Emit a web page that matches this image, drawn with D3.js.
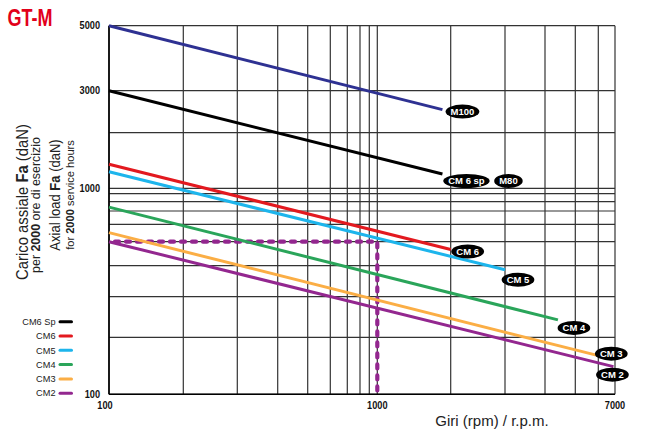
<!DOCTYPE html>
<html>
<head>
<meta charset="utf-8">
<script src="https://cdn.jsdelivr.net/npm/d3@7"></script>
<style>
  body { margin: 0; background: #fff; }
  svg { display: block; font-family: "Liberation Sans", Arial, Helvetica, sans-serif; }
</style>
</head>
<body>
<div id="chart"></div>
<script>
// chart values
var seriesNames = ["M100", "CM6 Sp", "CM6", "CM5", "CM4", "CM3", "CM2"];
var seriesRpm = [
    [100, 1850],
    [100, 1850],
    [100, 2000],
    [100, 3000],
    [100, 4400],
    [100, 6000],
    [100, 6900]
];
var seriesLoad = [
    [5000, 2500],
    [3000, 1195],
    [1350, 465],
    [1230, 385],
    [740, 238],
    [550, 160],
    [500, 140]
];
var seriesColors = ["#2e3192", "#000000", "#e3191f", "#1db5ec", "#2aa55a", "#fbae45", "#93278f"];

// badge texts at the end of the lines
var badgeText = ["M100", "CM 6 sp", "CM 6", "CM 5", "CM 4", "CM 3", "CM 2"];

// example reading : 1000 rpm -> 500 daN
var exampleRpm = [100, 1000, 1000];
var exampleLoad = [500, 500, 100];

// grid / tick values (log paper)
var xGrid = [100, 200, 300, 400, 500, 600, 700, 800, 900, 1000, 2000, 3000, 4000, 5000, 6000, 7000];
var yGrid = [100, 200, 300, 400, 500, 600, 700, 800, 900, 1000, 2000, 3000, 5000];
var xTickLabels = [100, 1000, 7000];
var yTickLabels = [100, 1000, 3000, 5000];

var legendNames = ["CM6 Sp", "CM6", "CM5", "CM4", "CM3", "CM2"];

var svgWidth = 645;
var svgHeight = 436;

var svg = d3.select("#chart").append("svg")
    .attr("width", svgWidth)
    .attr("height", svgHeight);

// the printed paper is not a pure log scale, so the scale is piecewise on the grid lines
var xScale = d3.scaleLog()
    .domain(xGrid)
    .range([109, 183.3, 237.3, 277.7, 307.7, 330.3, 347.3, 360, 369.3, 377.3, 450.7, 505, 545, 575.3, 598.3, 615]);

var yScale = d3.scaleLog()
    .domain(yGrid)
    .range([394.3, 337.3, 296.7, 265.7, 241.7, 224.3, 211, 201.7, 193.7, 188.3, 132.7, 90.7, 25.7]);

var x0 = xScale(100), x1 = xScale(7000);
var y0 = yScale(100), y1 = yScale(5000);

// grid
var grid = svg.append("g");
grid.selectAll("line.v")
    .data(xGrid)
    .enter()
    .append("line")
    .attr("class", "v")
    .attr("x1", d => xScale(d))
    .attr("x2", d => xScale(d))
    .attr("y1", y1)
    .attr("y2", y0)
    .attr("stroke", "#333")
    .attr("stroke-width", 1.2);

grid.selectAll("line.h")
    .data(yGrid)
    .enter()
    .append("line")
    .attr("class", "h")
    .attr("x1", x0)
    .attr("x2", x1)
    .attr("y1", d => yScale(d))
    .attr("y2", d => yScale(d))
    .attr("stroke", "#333")
    .attr("stroke-width", 1.2);

// frame
svg.append("line").attr("x1", x0).attr("x2", x0).attr("y1", y1).attr("y2", y0)
    .attr("stroke", "#000").attr("stroke-width", 1.6);
svg.append("line").attr("x1", x0).attr("x2", x1).attr("y1", y0).attr("y2", y0)
    .attr("stroke", "#000").attr("stroke-width", 1.6);

// tick labels
svg.selectAll("text.xt")
    .data(xTickLabels)
    .enter()
    .append("text")
    .attr("class", "xt")
    .attr("transform", (d, i) => `translate(${xScale(d) + (i === 0 ? -4 : 0)},408.5) scale(0.9,1)`)
    .attr("text-anchor", "middle")
    .attr("font-size", "10.2px")
    .attr("font-weight", "bold")
    .attr("fill", "#111")
    .text(d => d);

svg.selectAll("text.yt")
    .data(yTickLabels)
    .enter()
    .append("text")
    .attr("class", "yt")
    .attr("transform", d => `translate(100,${yScale(d) + 3.6}) scale(0.9,1)`)
    .attr("text-anchor", "end")
    .attr("font-size", "10.2px")
    .attr("font-weight", "bold")
    .attr("fill", "#111")
    .text(d => d);

// example reading (dashed)
var lineGen = d3.line()
    .x(d => xScale(d[0]))
    .y(d => yScale(d[1]));

svg.append("path")
    .datum(exampleRpm.map((r, i) => [r, exampleLoad[i]]))
    .attr("d", lineGen)
    .attr("fill", "none")
    .attr("stroke", "#93278f")
    .attr("stroke-width", 4.2)
    .attr("stroke-linecap", "round")
    .attr("stroke-dasharray", "4,7")
    .attr("stroke-dashoffset", -6);

// series lines
var seriesData = seriesNames.map(function(name, i) {
    return {
        name: name,
        color: seriesColors[i],
        badge: badgeText[i],
        points: seriesRpm[i].map((r, j) => [r, seriesLoad[i][j]])
    };
});

svg.append("g").selectAll("path")
    .data(seriesData)
    .enter()
    .append("path")
    .attr("d", d => lineGen(d.points))
    .attr("fill", "none")
    .attr("stroke", d => d.color)
    .attr("stroke-width", 3);

// badges : nudge from the line end
var badgeNudge = [[20, 2], [24, 7], [17, 2], [13, 10], [16, 8], [13, -2], [-1, 8]];

function badge(cx, cy, label) {
    var g = svg.append("g").attr("transform", `translate(${cx},${cy})`);
    var el = g.append("ellipse").attr("fill", "#000");
    var t = g.append("text")
        .attr("text-anchor", "middle")
        .attr("y", 3.4)
        .attr("font-size", "9.5px")
        .attr("font-weight", "bold")
        .attr("fill", "#fff")
        .text(label);
    var w = t.node().getComputedTextLength();
    el.attr("rx", w / 2 + 5).attr("ry", 7);
    return w;
}

seriesData.forEach(function(d, i) {
    var end = d.points[d.points.length - 1];
    var cx = xScale(end[0]) + badgeNudge[i][0];
    var cy = yScale(end[1]) + badgeNudge[i][1];
    badge(cx, cy, d.badge);
    // M80 shares the CM 6 sp curve
    if (d.name === "CM6 Sp") badge(cx + 42, cy, "M80");
});

// legend
var legend = svg.append("g");
legendNames.forEach(function(name, i) {
    var color = seriesColors[seriesNames.indexOf(name)];
    var ly = 321.7 + i * 14.3;
    legend.append("text")
        .attr("x", 55.5)
        .attr("y", ly + 3.2)
        .attr("text-anchor", "end")
        .attr("font-size", "9.2px")
        .attr("fill", "#222")
        .text(name);
    legend.append("line")
        .attr("x1", 60)
        .attr("x2", 71.5)
        .attr("y1", ly)
        .attr("y2", ly)
        .attr("stroke", color)
        .attr("stroke-width", 3)
        .attr("stroke-linecap", "round");
});

// title
svg.append("text")
    .attr("x", 7.5)
    .attr("y", 26)
    .attr("font-size", "23px")
    .attr("font-weight", "bold")
    .attr("fill", "#e2001a")
    .attr("textLength", 45)
    .attr("lengthAdjust", "spacingAndGlyphs")
    .text("GT-M");

// x axis title
svg.append("text")
    .attr("x", 492)
    .attr("y", 426)
    .attr("text-anchor", "middle")
    .attr("font-size", "15px")
    .attr("fill", "#222")
    .text("Giri (rpm) / r.p.m.");

// y axis title : four lines, bold parts as tspans, slightly condensed
var yTitle = [
    { x: 28, y: 202, size: 16.5, squeeze: 0.9, parts: [["Carico assiale ", false], ["Fa", true], [" (daN)", false]] },
    { x: 39.5, y: 205, size: 12.8, squeeze: 0.97, parts: [["per ", false], ["2000", true], [" ore di esercizio", false]] },
    { x: 59.5, y: 195, size: 15.5, squeeze: 0.84, parts: [["Axial load ", false], ["Fa", true], [" (daN)", false]] },
    { x: 74, y: 195, size: 11.8, squeeze: 0.94, parts: [["for ", false], ["2000", true], [" service hours", false]] }
];

yTitle.forEach(function(line) {
    var t = svg.append("text")
        .attr("transform", `translate(${line.x},${line.y}) rotate(-90) scale(${line.squeeze},1)`)
        .attr("text-anchor", "middle")
        .attr("font-size", line.size + "px")
        .attr("fill", "#222");
    line.parts.forEach(function(p) {
        t.append("tspan")
            .attr("font-weight", p[1] ? "bold" : "normal")
            .text(p[0]);
    });
});
</script>
</body>
</html>
